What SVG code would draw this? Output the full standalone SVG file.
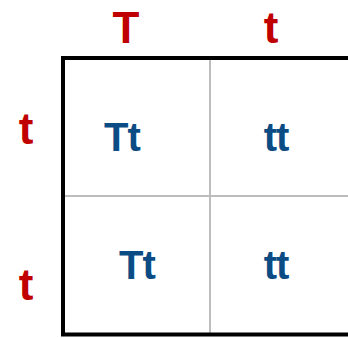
<svg xmlns="http://www.w3.org/2000/svg" width="348" height="338" viewBox="0 0 348 338">
<style>
.h{font-family:"Liberation Sans",Arial,sans-serif;font-weight:bold;font-size:44px;fill:#C00000;text-anchor:middle}
.c{font-family:"Liberation Sans",Arial,sans-serif;font-weight:bold;font-size:40px;fill:#0B4C84;text-anchor:middle;letter-spacing:-1px}
.g{stroke:#BDBDBD;stroke-width:2;fill:none}
.b{stroke:#000;fill:none}
</style>
<rect width="348" height="338" fill="#fff"/>
<g id="grid">
<line class="g" x1="210" y1="58" x2="210" y2="334"/>
<line class="g" x1="63" y1="196" x2="348" y2="196"/>
<polyline class="b" stroke-width="4" points="63,334 63,58 348,58"/>
<line class="b" stroke-width="4" x1="61" y1="334.5" x2="348" y2="334.5"/>
</g>
<g id="header-T"><text class="h" x="126" y="43">T</text></g>
<g id="header-t"><text class="h" x="271" y="43">t</text></g>
<g id="row1-t"><text class="h" x="26" y="144">t</text></g>
<g id="row2-t"><text class="h" x="26" y="300">t</text></g>
<g id="cell-11"><text class="c" x="122" y="151">Tt</text></g>
<g id="cell-12"><text class="c" x="276" y="151">tt</text></g>
<g id="cell-21"><text class="c" x="137" y="279">Tt</text></g>
<g id="cell-22"><text class="c" x="276" y="279">tt</text></g>
</svg>
